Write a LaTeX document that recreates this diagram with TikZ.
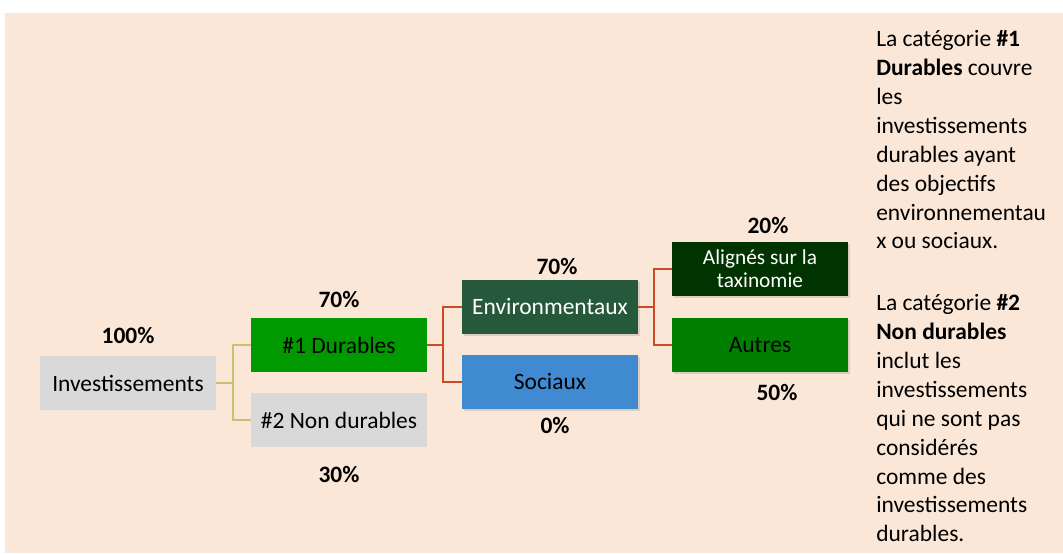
\documentclass[tikz,border=0pt]{standalone}
\usepackage{fontspec}
\setmainfont{Carlito}
\usepackage{tikz}
\usetikzlibrary{calc, shadows}
\definecolor{peach}{HTML}{FBE7D7}
\definecolor{boxgray}{HTML}{D9D9D9}
\definecolor{durgreen}{HTML}{009900}
\definecolor{envgreen}{HTML}{26593B}
\definecolor{taxgreen}{HTML}{003300}
\definecolor{autgreen}{HTML}{007F00}
\definecolor{socblue}{HTML}{3F8AD0}
\definecolor{branchred}{HTML}{CC4A28}
\definecolor{branchol}{HTML}{C8C270}
\newcommand{\mainsize}{\fontsize{17.6pt}{21.7pt}\selectfont}
\newcommand{\smallsize}{\fontsize{16pt}{17.5pt}\selectfont}

\begin{document}
\begin{tikzpicture}[x=0.75pt, y=-0.75pt,
    cat/.style={minimum width=132pt, minimum height=40.5pt, inner sep=0pt, font=\mainsize},
    shad/.style={drop shadow={shadow xshift=1.2pt, shadow yshift=-1.5pt, opacity=0.25}},
    pct/.style={font=\mainsize\bfseries},
    note/.style={anchor=north west, align=left, inner sep=0pt, font=\mainsize},
    olivebranch/.style={branchol, line width=1.5pt},
    redbranch/.style={branchred, line width=1.5pt}]
    \useasboundingbox (0,0) rectangle (1063,553);
    \fill[white] (0,0) rectangle (1063,553);
    \fill[peach] (5,13) rectangle (1063,553);
    % boxes
    \node[cat, fill=boxgray] (inv) at (128,383) {Investissements};
    \node[cat, fill=durgreen] (dur) at (339,345) {\#1 Durables};
    \node[cat, fill=boxgray] (nondur) at (339,420) {\#2 Non durables};
    \node[cat, shad, fill=envgreen, text=white] (env) at (550,307) {Environmentaux};
    \node[cat, shad, fill=socblue] (soc) at (550,382) {Sociaux};
    \node[cat, shad, fill=taxgreen, text=white, align=center, font=\smallsize] (tax) at (760,269) {Alignés sur la\\taxinomie};
    \node[cat, shad, fill=autgreen] (aut) at (760,345) {Autres};
    % percentages
    \node[pct] (p100) at (128,336) {100\%};
    \node[pct] (pdur) at (339,300) {70\%};
    \node[pct] (pnon) at (339,475) {30\%};
    \node[pct] (penv) at (557,267) {70\%};
    \node[pct] (psoc) at (555,426) {0\%};
    \node[pct] (ptax) at (768,226) {20\%};
    \node[pct] (paut) at (777,393) {50\%};
    % branches
    \draw[olivebranch] (inv.east) -- ++(17,0) coordinate (j1) |- (dur.west);
    \draw[olivebranch] (j1) |- (nondur.west);
    \draw[redbranch] (dur.east) -- ++(16,0) coordinate (j2) |- (env.west);
    \draw[redbranch] (j2) |- (soc.west);
    \draw[redbranch] (env.east) -- ++(16,0) coordinate (j3) |- (tax.west);
    \draw[redbranch] (j3) |- (aut.west);
    % side notes
    \node[note] (note1) at (876,30)
      {La catégorie \textbf{\#1}\\ \textbf{Durables} couvre\\ les\\ investissements\\ durables ayant\\ des objectifs\\ environnementau\\ x ou sociaux.};
    \node[note] (note2) at (876,294)
      {La catégorie \textbf{\#2}\\ \textbf{Non durables}\\ inclut les\\ investissements\\ qui ne sont pas\\ considérés\\ comme des\\ investissements\\ durables.};
\end{tikzpicture}
\end{document}
